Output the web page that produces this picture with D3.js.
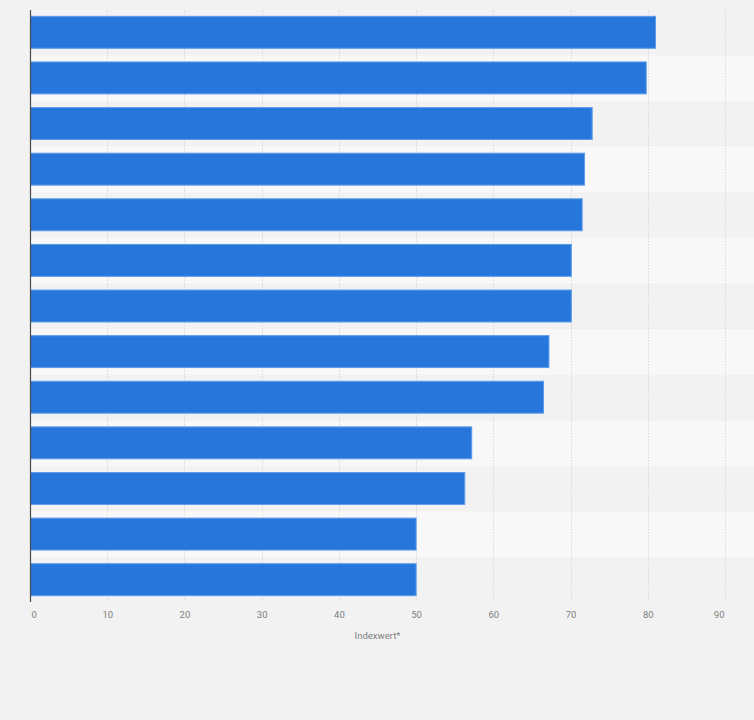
<!DOCTYPE html>
<html>
<head>
<meta charset="utf-8">
<script src="https://cdn.jsdelivr.net/npm/d3@7"></script>
<style>
  html, body { margin: 0; padding: 0; background: #f2f2f2; }
  svg { display: block; }
  text { font-family: Roboto, "Noto Sans", sans-serif; }
</style>
</head>
<body>
<svg id="chart" width="754" height="720"></svg>
<script>
// Data (category labels are not shown in the reference; keys only)
const categories = ["K1","K2","K3","K4","K5","K6","K7","K8","K9","K10","K11","K12","K13"];
const values = [81, 79.8, 72.8, 71.8, 71.5, 70.1, 70.1, 67.2, 66.5, 57.2, 56.3, 50, 50];
const tickValues = [0, 10, 20, 30, 40, 50, 60, 70, 80, 90];
const axisTitle = "Indexwert*";

(function () {
const W = 754, H = 720;
const pLeft = 30, pRight = 725, pTop = 10, pBottom = 603;

const svg = d3.select("#chart");
svg.append("rect").attr("width", W).attr("height", H).attr("fill", "#f2f2f2");

const x = d3.scaleLinear().domain([0, 90]).range([pLeft, pRight]);
const rows = d3.scaleBand().domain(categories).range([pTop, pBottom]).padding(0);
const y = d3.scaleBand().domain(categories).range([pTop, pBottom]).paddingInner(0.3).paddingOuter(0.15);

// alternating stripes
svg.append("g").selectAll("rect")
  .data(categories)
  .join("rect")
  .attr("x", pLeft)
  .attr("y", d => rows(d))
  .attr("width", W - pLeft)
  .attr("height", rows.bandwidth())
  .attr("fill", (d, i) => i % 2 === 1 ? "#f8f8f8" : "#f2f2f2");

// gridlines
svg.append("g").selectAll("line")
  .data(tickValues.filter(t => t > 0))
  .join("line")
  .attr("x1", d => Math.round(x(d)) + 0.5)
  .attr("x2", d => Math.round(x(d)) + 0.5)
  .attr("y1", pTop)
  .attr("y2", 602)
  .attr("stroke", "#d9d9d9")
  .attr("stroke-width", 1)
  .attr("stroke-dasharray", "1.5,1.5");

// bars
svg.append("g").selectAll("rect")
  .data(categories.map((c, i) => ({c, v: values[i]})))
  .join("rect")
  .attr("x", x(0) + 0.5)
  .attr("y", d => y(d.c) - 0.5)
  .attr("width", d => x(d.v) - x(0) - 0.5)
  .attr("height", y.bandwidth())
  .attr("fill", "#2776dc")
  .attr("stroke", "#5c9ce9")
  .attr("stroke-width", 1);

// vertical axis line
svg.append("line")
  .attr("x1", pLeft + 0.5).attr("x2", pLeft + 0.5)
  .attr("y1", pTop).attr("y2", 602)
  .attr("stroke", "#4a4a4a").attr("stroke-width", 1.2);

// x axis tick labels
const axis = d3.axisBottom(x).tickValues(tickValues).tickSize(0).tickPadding(0);
const gx = svg.append("g").attr("transform", "translate(0,611)").call(axis);
gx.select(".domain").remove();
gx.selectAll("text")
  .attr("dy", "0.71em")
  .attr("font-size", "9.5px")
  .attr("font-family", "Roboto, 'Noto Sans', sans-serif")
  .attr("fill", "#808080")
  .attr("text-anchor", d => d === 0 ? "start" : (d === 90 ? "end" : "middle"))
  .attr("x", d => d === 0 ? 1 : (d === 90 ? -1 : 0));

// axis title
svg.append("text")
  .attr("x", (pLeft + pRight) / 2)
  .attr("y", 638.5)
  .attr("text-anchor", "middle")
  .attr("font-size", "9.5px")
  .attr("fill", "#808080")
  .text(axisTitle);
})();
</script>
</body>
</html>
